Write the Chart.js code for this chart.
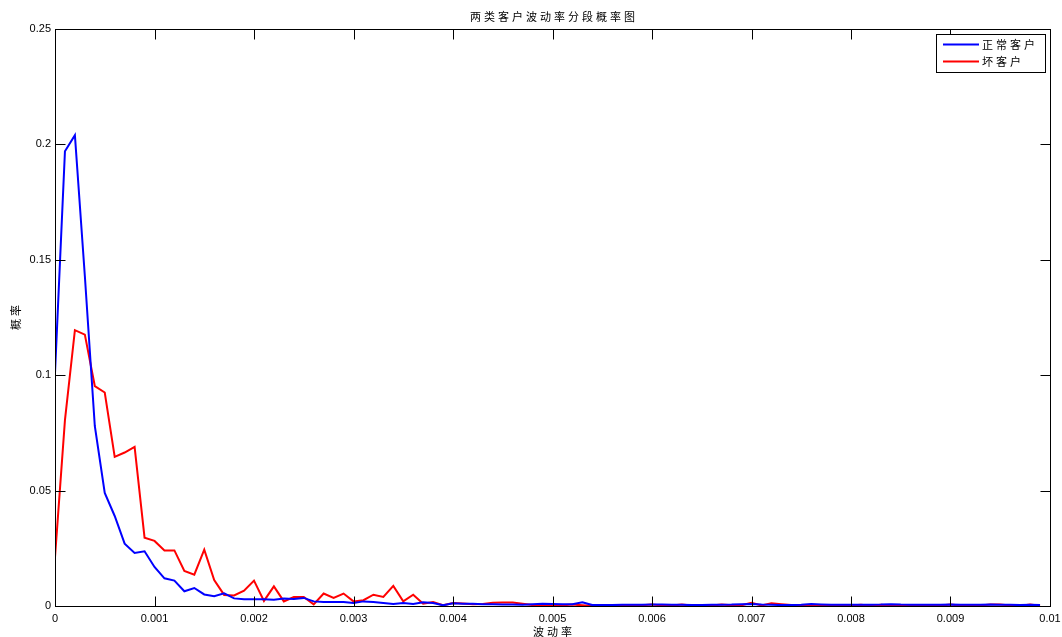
<!DOCTYPE html>
<html>
<head>
<meta charset="utf-8">
<script src="https://cdn.jsdelivr.net/npm/chart.js@4.4.1/dist/chart.umd.min.js"></script>
<style>
  html, body { margin: 0; padding: 0; background: #fff; }
  #wrap { width: 1062px; height: 637px; }
</style>
</head>
<body>
<div id="wrap"><canvas id="c" width="1062" height="637"></canvas></div>
<script>
// Probability of each volatility bin (bin width 0.0001, starting at 0)
const binWidth = 0.0001;

const normalProb = [
  0.101, 0.197, 0.204, 0.143, 0.078, 0.049, 0.039, 0.027, 0.023, 0.0237,
  0.0169, 0.012, 0.011, 0.0064, 0.0078, 0.005, 0.0042, 0.0055, 0.0033, 0.0029,
  0.0029, 0.0029, 0.0027, 0.0032, 0.003, 0.0035, 0.002, 0.0017, 0.0017, 0.0017,
  0.0013, 0.002, 0.0017, 0.0013, 0.0009, 0.0013, 0.0009, 0.0016, 0.0013, 0.0003,
  0.0012, 0.001, 0.001, 0.0008, 0.0008, 0.0006, 0.0006, 0.0005, 0.0008, 0.001,
  0.0009, 0.0008, 0.0008, 0.0016, 0.0004, 0.0004, 0.0004, 0.0005, 0.0005, 0.0005,
  0.0007, 0.0006, 0.0005, 0.0005, 0.0004, 0.0004, 0.0005, 0.0005, 0.0006, 0.0008,
  0.0009, 0.0006, 0.0005, 0.0004, 0.0004, 0.0005, 0.0009, 0.0007, 0.0005, 0.0005,
  0.0005, 0.0005, 0.0005, 0.0006, 0.0008, 0.0006, 0.0005, 0.0005, 0.0005, 0.0005,
  0.0006, 0.0005, 0.0005, 0.0005, 0.0006, 0.0005, 0.0005, 0.0004, 0.0005, 0.0004
];

const badProb = [
  0.0212, 0.0805, 0.1195, 0.1176, 0.0953, 0.0925, 0.0646, 0.0665, 0.0689, 0.0296,
  0.0282, 0.0241, 0.0241, 0.0152, 0.0136, 0.0244, 0.0112, 0.0048, 0.0046, 0.0066,
  0.011, 0.0022, 0.0085, 0.002, 0.0039, 0.0039, 0.0007, 0.0054, 0.0035, 0.0054,
  0.002, 0.0025, 0.0049, 0.0039, 0.0087, 0.002, 0.0049, 0.001, 0.0017, 0.0003,
  0.0013, 0.0011, 0.0008, 0.0009, 0.0014, 0.0015, 0.0015, 0.001, 0.0004, 0.0002,
  0.0002, 0.0003, 0.0006, 0.0003, 0.0, 0.0, 0.0001, 0.0001, 0.0002, 0.0003,
  0.0007, 0.0002, 0.0002, 0.0006, 0.0002, 0.0001, 0.0002, 0.0006, 0.0003, 0.0003,
  0.0014, 0.0002, 0.0012, 0.0008, 0.0004, 0.0002, 0.0001, 0.0, 0.0001, 0.0001,
  0.0002, 0.0005, 0.0001, 0.0005, 0.0001, 0.0001, 0.0001, 0.0001, 0.0002, 0.0002,
  0.0006, 0.0002, 0.0001, 0.0002, 0.0007, 0.0007, 0.0002, 0.0001, 0.0006, 0.0001
];

const seriesNames = ['正常客户', '坏客户'];
const xTickLabels = ['0', '0.001', '0.002', '0.003', '0.004', '0.005', '0.006', '0.007', '0.008', '0.009', '0.01'];
const yTickLabels = ['0', '0.05', '0.1', '0.15', '0.2', '0.25'];
const chartTitle = '两类客户波动率分段概率图';
const xAxisTitle = '波动率';
const yAxisTitle = '概率';

const toPoints = arr => arr.map((v, i) => ({ x: i * binWidth, y: v }));

const cjkFont = '"Noto Sans CJK SC", sans-serif';
const numFont = '"Liberation Sans", Arial, sans-serif';

// Frame with inward ticks on all four sides, titles and a boxed legend
const framePlugin = {
  id: 'frame',
  afterDraw(chart) {
    const { ctx, chartArea: a, scales } = chart;
    const L = Math.round(a.left) + 0.5, R = Math.round(a.right) + 0.5;
    const T = Math.round(a.top) + 0.5, B = Math.round(a.bottom) + 0.5;
    ctx.save();
    ctx.strokeStyle = '#000';
    ctx.lineWidth = 1;
    ctx.strokeRect(L, T, R - L, B - T);
    const tl = 10;
    ctx.beginPath();
    scales.x.ticks.forEach(t => {
      const px = Math.round(scales.x.getPixelForValue(t.value)) + 0.5;
      ctx.moveTo(px, B); ctx.lineTo(px, B - tl);
      ctx.moveTo(px, T); ctx.lineTo(px, T + tl);
    });
    scales.y.ticks.forEach(t => {
      const py = Math.round(scales.y.getPixelForValue(t.value)) + 0.5;
      ctx.moveTo(L, py); ctx.lineTo(L + tl, py);
      ctx.moveTo(R, py); ctx.lineTo(R - tl, py);
    });
    ctx.stroke();

    ctx.fillStyle = '#000';
    ctx.font = '11px ' + cjkFont;
    ctx.letterSpacing = '3px';
    ctx.textBaseline = 'middle';
    ctx.textAlign = 'center';
    const cx = (a.left + a.right) / 2;
    ctx.fillText(chartTitle, cx + 1.5, 17);
    ctx.fillText(xAxisTitle, cx + 1.5, 632);
    ctx.save();
    ctx.translate(16, (a.top + a.bottom) / 2);
    ctx.rotate(-Math.PI / 2);
    ctx.fillText(yAxisTitle, 1.5, 0);
    ctx.restore();

    // legend
    const bx = 936.5, by = 34.5, bw = 109, bh = 38;
    ctx.fillStyle = '#fff';
    ctx.fillRect(bx, by, bw, bh);
    ctx.strokeStyle = '#000';
    ctx.strokeRect(bx, by, bw, bh);
    ctx.textAlign = 'left';
    chart.data.datasets.forEach((ds, i) => {
      const ly = 44.5 + i * 17;
      ctx.strokeStyle = ds.borderColor;
      ctx.lineWidth = 2;
      ctx.beginPath();
      ctx.moveTo(943, ly); ctx.lineTo(979, ly);
      ctx.stroke();
      ctx.fillStyle = '#000';
      ctx.fillText(ds.label, 982, ly + 0.5);
    });
    ctx.restore();
  }
};

new Chart(document.getElementById('c'), {
  type: 'line',
  data: {
    datasets: [
      { label: seriesNames[0], data: toPoints(normalProb), borderColor: '#0000ff', backgroundColor: '#0000ff' },
      { label: seriesNames[1], data: toPoints(badProb), borderColor: '#ff0000', backgroundColor: '#ff0000' }
    ]
  },
  options: {
    responsive: false,
    animation: false,
    devicePixelRatio: 1,
    layout: { padding: { top: 29, right: 12, left: 0, bottom: 0 } },
    elements: {
      line: { borderWidth: 2, tension: 0 },
      point: { radius: 0, hoverRadius: 0 }
    },
    plugins: { legend: { display: false }, title: { display: false }, tooltip: { enabled: false } },
    scales: {
      x: {
        type: 'linear', min: 0, max: 0.01,
        afterFit: s => { s.height = 31; s.paddingLeft = 0; s.paddingRight = 0; },
        grid: { display: false, drawTicks: false },
        border: { display: false },
        ticks: {
          stepSize: 0.001, padding: 6, maxRotation: 0, autoSkip: false,
          color: '#000', font: { family: numFont, size: 11 },
          callback: (v, i) => xTickLabels[i]
        }
      },
      y: {
        type: 'linear', min: 0, max: 0.25,
        afterFit: s => { s.width = 55; s.paddingTop = 0; s.paddingBottom = 0; },
        grid: { display: false, drawTicks: false },
        border: { display: false },
        ticks: {
          stepSize: 0.05, padding: 4,
          color: '#000', font: { family: numFont, size: 11 },
          callback: (v, i) => yTickLabels[i]
        }
      }
    }
  },
  plugins: [framePlugin]
});
</script>
</body>
</html>
